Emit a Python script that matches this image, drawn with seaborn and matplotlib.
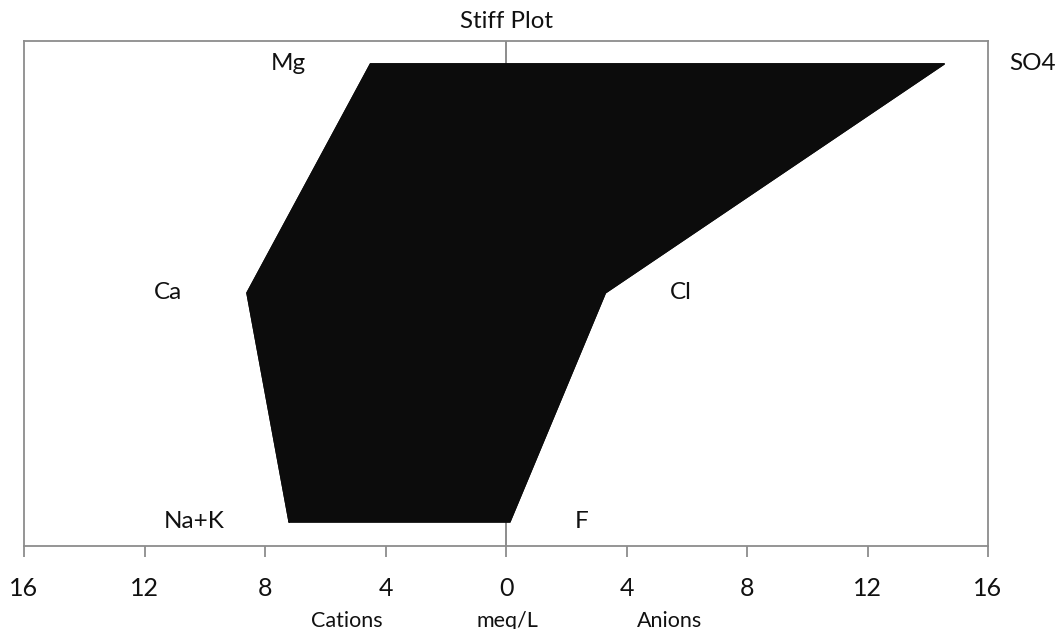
import matplotlib
matplotlib.use("Agg")
import matplotlib.pyplot as plt
import matplotlib.transforms as mtrans
import seaborn as sns
import pandas as pd

# ---- data ----
cation_names = ["Na+K", "Ca", "Mg"]
cation_values = [7.2, 8.6, 4.5]
anion_names = ["F", "Cl", "SO4"]
anion_values = [0.13, 3.3, 14.55]
levels = [0, 1, 2]
tick_values = [-16, -12, -8, -4, 0, 4, 8, 12, 16]
tick_labels = ["16", "12", "8", "4", "0", "4", "8", "12", "16"]
title = "Stiff Plot"
axis_texts = [("Cations", -5.28), ("meq/L", 0.05), ("Anions", 5.44)]

sns.set_style("white")
plt.rcParams["font.family"] = ["Lato", "DejaVu Sans"]

fig = plt.figure(figsize=(10.55, 6.29), dpi=100)
ax = fig.add_axes([24 / 1055, 83 / 629, 964 / 1055, 505 / 629])

# polygon outline: cations (negative side) bottom->top, then anions top->bottom
poly_x = [-v for v in cation_values] + anion_values[::-1]
poly_y = levels + levels[::-1]
df = pd.DataFrame({"x": poly_x + [poly_x[0]], "y": poly_y + [poly_y[0]]})

ax.axvline(0, color="#8c8c8c", lw=1.4, zorder=1)
ax.fill(df["x"], df["y"], color="#0c0c0c", zorder=2)
sns.lineplot(data=df, x="x", y="y", sort=False, estimator=None,
             color="#0c0c0c", lw=1, ax=ax, zorder=3)

offset = 2.15
for name, v, lv in zip(cation_names, cation_values, levels):
    ax.text(-v - offset, lv, name, ha="right", va="center", fontsize=17.5,
            color="#111111")
for name, v, lv in zip(anion_names, anion_values, levels):
    ax.text(v + offset, lv, name, ha="left", va="center", fontsize=17.5,
            color="#111111", clip_on=False)

ax.set_xlim(-16, 16)
ax.set_ylim(-0.105, 2.1)
ax.set_xticks(tick_values)
ax.set_xticklabels(tick_labels, fontsize=18, color="#111111")
ax.set_yticks([])
ax.set_xlabel("")
ax.set_ylabel("")
ax.tick_params(axis="x", direction="out", length=8, width=1.3,
               color="#8c8c8c", pad=14, bottom=True)
for s in ax.spines.values():
    s.set_visible(True)
    s.set_color("#8c8c8c")
    s.set_linewidth(1.3)

ax.set_title(title, fontsize=17.3, color="#111111", pad=9)

for txt, xv in axis_texts:
    ax.text(xv, -0.105, txt, ha="center", va="center", fontsize=15.5,
            color="#111111",
            transform=ax.transData + mtrans.ScaledTranslation(0, -75 / 100, fig.dpi_scale_trans))

fig.savefig("out.png", dpi=100)
